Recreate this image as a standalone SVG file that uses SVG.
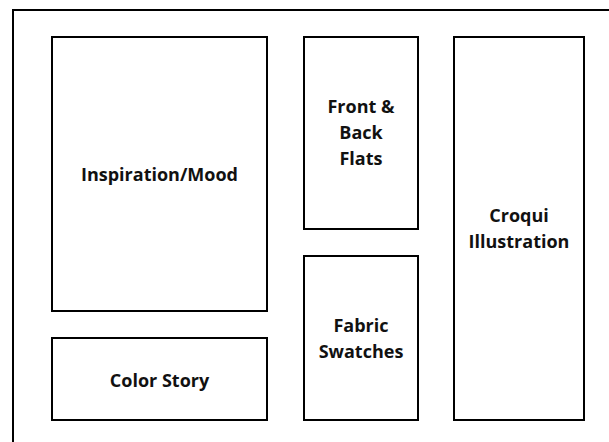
<svg xmlns="http://www.w3.org/2000/svg" width="609" height="442" viewBox="0 0 609 442">
<style>
.box{fill:#fff;stroke:#000;stroke-width:2}
.lbl{font-family:"Open Sans","Liberation Sans",sans-serif;font-weight:bold;font-size:18px;fill:#111;text-anchor:middle}
</style>
<rect width="609" height="442" fill="#fff"/>
<g id="frame"><path d="M13 450 V10 H620" fill="none" stroke="#000" stroke-width="2"/></g>
<g id="connectors"></g>
<g id="inspiration"><rect class="box" x="52" y="37" width="215" height="274"/><text class="lbl" x="159.5" y="181">Inspiration/Mood</text></g>
<g id="color-story"><rect class="box" x="52" y="338" width="215" height="82"/><text class="lbl" x="159.5" y="387">Color Story</text></g>
<g id="flats"><rect class="box" x="304" y="37" width="114" height="192"/><text class="lbl" x="361" y="113">Front &amp;</text><text class="lbl" x="361" y="139">Back</text><text class="lbl" x="361" y="165">Flats</text></g>
<g id="fabric"><rect class="box" x="304" y="256" width="114" height="164"/><text class="lbl" x="361" y="332">Fabric</text><text class="lbl" x="361" y="358">Swatches</text></g>
<g id="croqui"><rect class="box" x="454" y="37" width="130" height="383"/><text class="lbl" x="519" y="222">Croqui</text><text class="lbl" x="519" y="248">Illustration</text></g>
</svg>
